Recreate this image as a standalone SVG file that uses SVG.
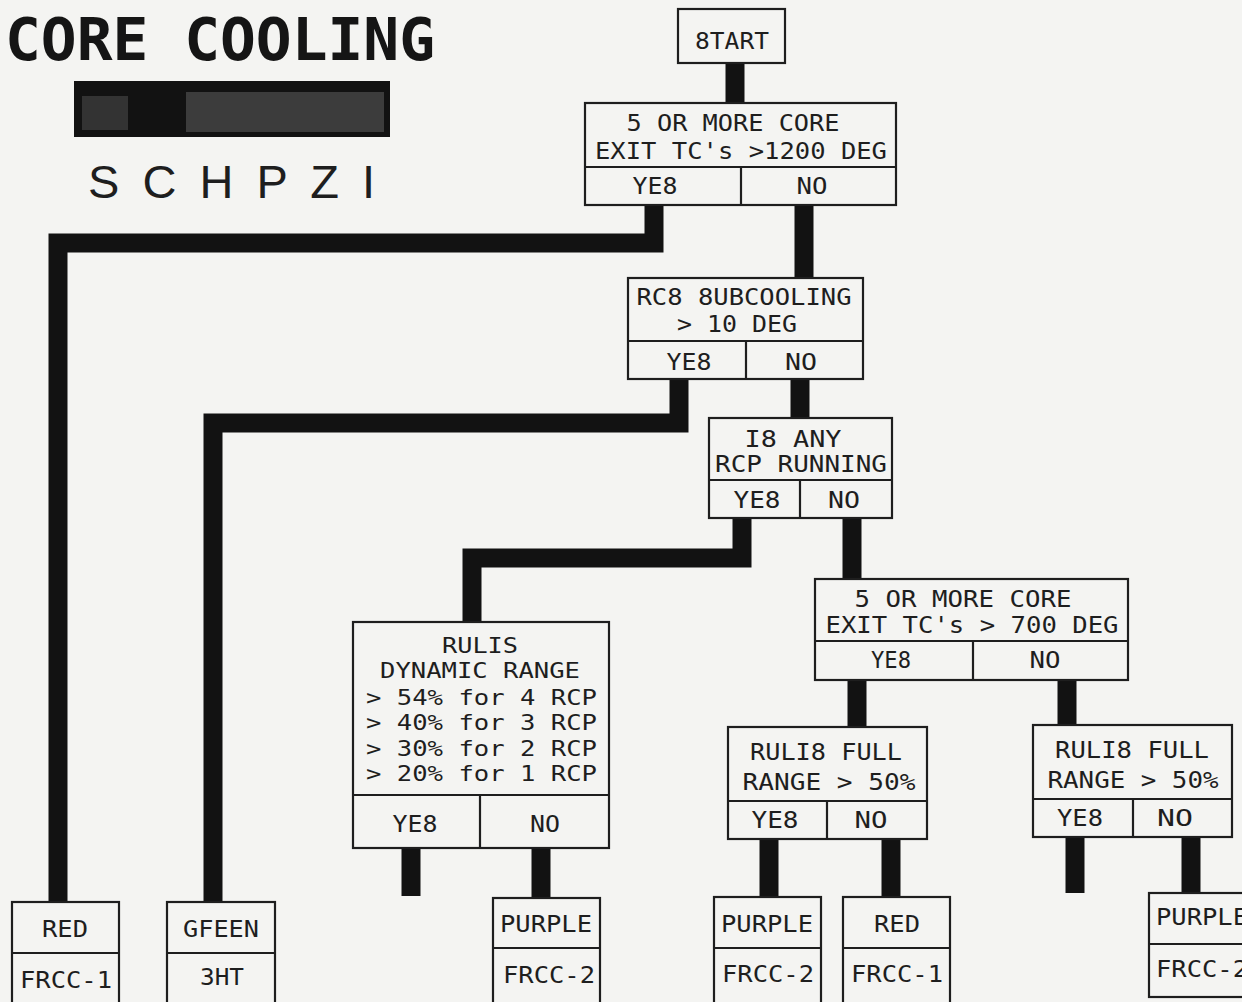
<svg xmlns="http://www.w3.org/2000/svg" width="1242" height="1002" viewBox="0 0 1242 1002">
<style>
.bg{fill:#f4f4f2}
.box{fill:#f4f4f2;stroke:#1e1e1e;stroke-width:2.2}
.div{stroke:#1e1e1e;stroke-width:2.2;fill:none}
.t{font-family:"DejaVu Sans Mono","Liberation Mono",monospace;font-size:23px;fill:#1e1e1e;text-anchor:middle}
.s{font-size:21px}
.ts{text-anchor:start}
.c{stroke:#121212;stroke-width:19;fill:none;stroke-linejoin:miter;stroke-linecap:butt}
</style>
<rect class="bg" x="0" y="0" width="1242" height="1002"/>

<g id="title">
<text x="5" y="60" font-family="'DejaVu Sans Mono','Liberation Mono',monospace" font-weight="bold" font-size="58" fill="#151515" textLength="430" lengthAdjust="spacingAndGlyphs">CORE COOLING</text>
<rect x="74" y="81" width="316" height="56" fill="#121212"/>
<rect x="82" y="96" width="46" height="34" fill="#3c3c3c" opacity="0.8"/>
<rect x="186" y="92" width="198" height="40" fill="#474747" opacity="0.8"/>
<text x="88" y="198" font-family="'Liberation Sans',Arial,sans-serif" font-size="47" fill="#1e1e1e" textLength="287" lengthAdjust="spacing">S C H P Z I</text>
</g>

<g id="connectors">
<path class="c" d="M735,63 V104"/>
<path class="c" d="M654,204 V243 H58 V903"/>
<path class="c" d="M804,204 V279"/>
<path class="c" d="M679,378 V423 H213 V903"/>
<path class="c" d="M800,378 V419"/>
<path class="c" d="M742,517 V558 H472 V623"/>
<path class="c" d="M852,517 V580"/>
<path class="c" d="M857,679 V728"/>
<path class="c" d="M1067,679 V726"/>
<path class="c" d="M411,847 V896"/>
<path class="c" d="M541,847 V899"/>
<path class="c" d="M769,838 V898"/>
<path class="c" d="M891,838 V898"/>
<path class="c" d="M1075,836 V893"/>
<path class="c" d="M1191,836 V894"/>
</g>

<g id="start">
<rect class="box" x="678" y="9" width="107" height="54"/>
<text class="t" x="732" y="49" textLength="74" lengthAdjust="spacingAndGlyphs">8TART</text>
</g>

<g id="decision1">
<rect class="box" x="585" y="103" width="311" height="102"/>
<path class="div" d="M585,167 H896 M741,167 V205"/>
<text class="t" x="733" y="131" textLength="213" lengthAdjust="spacingAndGlyphs">5 OR MORE CORE</text>
<text class="t" x="741" y="159" textLength="292" lengthAdjust="spacingAndGlyphs">EXIT TC's &gt;1200 DEG</text>
<text class="t" x="655" y="194" textLength="45" lengthAdjust="spacingAndGlyphs">YE8</text>
<text class="t" x="812" y="194" textLength="31" lengthAdjust="spacingAndGlyphs">NO</text>
</g>

<g id="rcs">
<rect class="box" x="628" y="278" width="235" height="101"/>
<path class="div" d="M628,341 H863 M746,341 V379"/>
<text class="t" x="744" y="305" textLength="215" lengthAdjust="spacingAndGlyphs">RC8 8UBCOOLING</text>
<text class="t" x="737" y="332" textLength="120" lengthAdjust="spacingAndGlyphs">&gt; 10 DEG</text>
<text class="t" x="689" y="370" textLength="45" lengthAdjust="spacingAndGlyphs">YE8</text>
<text class="t" x="801" y="370" textLength="32" lengthAdjust="spacingAndGlyphs">NO</text>
</g>

<g id="isany">
<rect class="box" x="709" y="418" width="183" height="100"/>
<path class="div" d="M709,480 H892 M800,480 V518"/>
<text class="t" x="793" y="447" textLength="97" lengthAdjust="spacingAndGlyphs">I8 ANY</text>
<text class="t" x="801" y="472" textLength="172" lengthAdjust="spacingAndGlyphs">RCP RUNNING</text>
<text class="t" x="757" y="508" textLength="47" lengthAdjust="spacingAndGlyphs">YE8</text>
<text class="t" x="844" y="508" textLength="32" lengthAdjust="spacingAndGlyphs">NO</text>
</g>

<g id="d700">
<rect class="box" x="815" y="579" width="313" height="101"/>
<path class="div" d="M815,641 H1128 M973,641 V680"/>
<text class="t" x="963" y="607" textLength="217" lengthAdjust="spacingAndGlyphs">5 OR MORE CORE</text>
<text class="t" x="972" y="633" textLength="293" lengthAdjust="spacingAndGlyphs">EXIT TC's &gt; 700 DEG</text>
<text class="t" x="891" y="668" textLength="40" lengthAdjust="spacingAndGlyphs">YE8</text>
<text class="t" x="1045" y="668" textLength="31" lengthAdjust="spacingAndGlyphs">NO</text>
</g>

<g id="rvlisdyn">
<rect class="box" x="353" y="622" width="256" height="226"/>
<path class="div" d="M353,795 H609 M480,795 V848"/>
<text class="t s" x="480" y="653" textLength="76" lengthAdjust="spacingAndGlyphs">RULIS</text>
<text class="t s" x="480" y="678" textLength="200" lengthAdjust="spacingAndGlyphs">DYNAMIC RANGE</text>
<text class="t s ts" x="366" y="705" textLength="231" lengthAdjust="spacingAndGlyphs">&gt; 54% for 4 RCP</text>
<text class="t s ts" x="366" y="730" textLength="231" lengthAdjust="spacingAndGlyphs">&gt; 40% for 3 RCP</text>
<text class="t s ts" x="366" y="756" textLength="231" lengthAdjust="spacingAndGlyphs">&gt; 30% for 2 RCP</text>
<text class="t s ts" x="366" y="781" textLength="231" lengthAdjust="spacingAndGlyphs">&gt; 20% for 1 RCP</text>
<text class="t" x="415" y="832" textLength="45" lengthAdjust="spacingAndGlyphs">YE8</text>
<text class="t" x="545" y="832" textLength="30" lengthAdjust="spacingAndGlyphs">NO</text>
</g>

<g id="full1">
<rect class="box" x="728" y="727" width="199" height="112"/>
<path class="div" d="M728,801 H927 M827,801 V839"/>
<text class="t" x="826" y="760" textLength="152" lengthAdjust="spacingAndGlyphs">RULI8 FULL</text>
<text class="t" x="829" y="790" textLength="173" lengthAdjust="spacingAndGlyphs">RANGE &gt; 50%</text>
<text class="t" x="775" y="828" textLength="47" lengthAdjust="spacingAndGlyphs">YE8</text>
<text class="t" x="871" y="828" textLength="33" lengthAdjust="spacingAndGlyphs">NO</text>
</g>

<g id="full2">
<rect class="box" x="1033" y="725" width="199" height="112"/>
<path class="div" d="M1033,799 H1232 M1133,799 V837"/>
<text class="t" x="1132" y="758" textLength="154" lengthAdjust="spacingAndGlyphs">RULI8 FULL</text>
<text class="t" x="1133" y="788" textLength="171" lengthAdjust="spacingAndGlyphs">RANGE &gt; 50%</text>
<text class="t" x="1080" y="826" textLength="46" lengthAdjust="spacingAndGlyphs">YE8</text>
<text class="t" x="1175" y="826" textLength="36" lengthAdjust="spacingAndGlyphs">NO</text>
</g>

<g id="red1">
<rect class="box" x="12" y="902" width="107" height="110"/>
<path class="div" d="M12,953 H119"/>
<text class="t" x="65" y="937" textLength="46" lengthAdjust="spacingAndGlyphs">RED</text>
<text class="t" x="66" y="988" textLength="92" lengthAdjust="spacingAndGlyphs">FRCC-1</text>
</g>

<g id="green">
<rect class="box" x="167" y="902" width="108" height="110"/>
<path class="div" d="M167,953 H275"/>
<text class="t" x="221" y="937" textLength="76" lengthAdjust="spacingAndGlyphs">GFEEN</text>
<text class="t" x="222" y="985" textLength="44" lengthAdjust="spacingAndGlyphs">3HT</text>
</g>

<g id="purple1">
<rect class="box" x="493" y="898" width="107" height="110"/>
<path class="div" d="M493,948 H600"/>
<text class="t" x="546" y="932" textLength="92" lengthAdjust="spacingAndGlyphs">PURPLE</text>
<text class="t" x="549" y="983" textLength="92" lengthAdjust="spacingAndGlyphs">FRCC-2</text>
</g>

<g id="purple2">
<rect class="box" x="714" y="897" width="107" height="110"/>
<path class="div" d="M714,948 H821"/>
<text class="t" x="767" y="932" textLength="92" lengthAdjust="spacingAndGlyphs">PURPLE</text>
<text class="t" x="768" y="982" textLength="92" lengthAdjust="spacingAndGlyphs">FRCC-2</text>
</g>

<g id="red2">
<rect class="box" x="843" y="897" width="107" height="110"/>
<path class="div" d="M843,948 H950"/>
<text class="t" x="897" y="932" textLength="46" lengthAdjust="spacingAndGlyphs">RED</text>
<text class="t" x="897" y="982" textLength="92" lengthAdjust="spacingAndGlyphs">FRCC-1</text>
</g>

<g id="purple3">
<rect class="box" x="1149" y="893" width="107" height="104"/>
<path class="div" d="M1149,944 H1256"/>
<text class="t ts" x="1156" y="925" textLength="92" lengthAdjust="spacingAndGlyphs">PURPLE</text>
<text class="t ts" x="1156" y="977" textLength="92" lengthAdjust="spacingAndGlyphs">FRCC-2</text>
</g>
</svg>
